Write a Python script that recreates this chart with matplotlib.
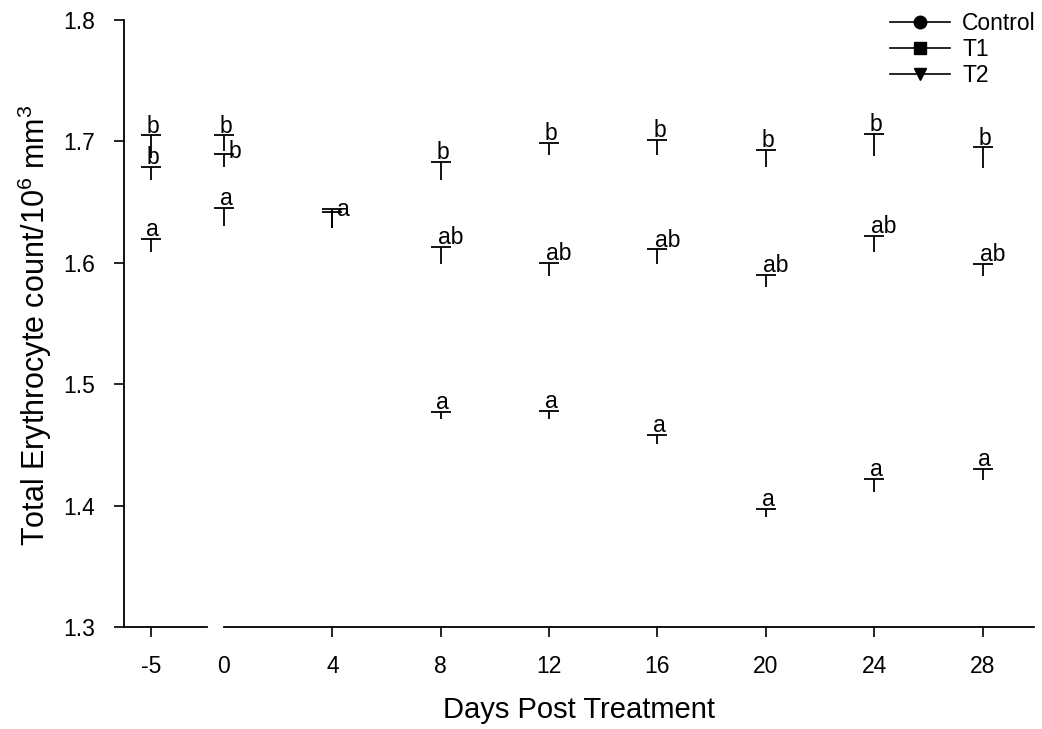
import numpy as np
import matplotlib.pyplot as plt
from matplotlib.lines import Line2D

plt.rcParams['font.family'] = ['Liberation Sans', 'DejaVu Sans']
plt.rcParams['mathtext.default'] = 'regular'
plt.rcParams['axes.unicode_minus'] = False

days = [-5, 0, 4, 8, 12, 16, 20, 24, 28]
series = ["Control", "T1", "T2"]

# means and standard errors (only the upper bar is drawn)
control_mean = [1.686, 1.692, np.nan, 1.668, 1.689, 1.689, 1.679, 1.688, 1.678]
control_err = [0.019, 0.013, np.nan, 0.015, 0.010, 0.012, 0.014, 0.018, 0.017]
t1_mean = [1.668, 1.679, 1.629, 1.599, 1.589, 1.599, 1.580, 1.609, 1.589]
t1_err = [0.011, 0.011, 0.015, 0.014, 0.011, 0.012, 0.010, 0.013, 0.010]
t2_mean = [1.609, 1.630, 1.629, 1.471, 1.471, 1.451, 1.391, 1.411, 1.421]
t2_err = [0.011, 0.015, 0.013, 0.006, 0.007, 0.007, 0.006, 0.011, 0.009]

control_letters = ["b", "b", "", "b", "b", "b", "b", "b", "b"]
t1_letters = ["b", "b", "", "ab", "ab", "ab", "ab", "ab", "ab"]
t2_letters = ["a", "a", "a", "a", "a", "a", "a", "a", "a"]

means = [control_mean, t1_mean, t2_mean]
errs = [control_err, t1_err, t2_err]
letters = [control_letters, t1_letters, t2_letters]
markers = ["o", "s", "v"]

# letters that sit beside the bar instead of on top of it
beside = {(1, 1), (2, 2)}

W, H = 1042, 729
fig = plt.figure(figsize=(W / 100, H / 100), dpi=100)
bottom, top = 1 - 627 / H, 1 - 20 / H
ax1 = fig.add_axes([124 / W, bottom, (207 - 124) / W, top - bottom])
ax2 = fig.add_axes([224 / W, bottom, (1034 - 224) / W, top - bottom], sharey=ax1)

ax1.set_xlim(-6.0, -2.9)
ax2.set_xlim(0, 29.9)
ax1.set_ylim(1.3, 1.8)
ax1.set_yticks([1.3, 1.4, 1.5, 1.6, 1.7, 1.8])
ax1.set_xticks([-5])
ax2.set_xticks([0, 4, 8, 12, 16, 20, 24, 28])
ax2.xaxis.get_major_ticks()[0].tick1line.set_visible(False)

for ax in (ax1, ax2):
    for s in ("top", "right"):
        ax.spines[s].set_visible(False)
    ax.spines["bottom"].set_linewidth(1.3)
    ax.tick_params(axis="x", direction="out", length=7, width=1.2, pad=13, labelsize=16.5)
ax2.spines["left"].set_visible(False)
ax2.tick_params(axis="y", left=False, labelleft=False)
ax1.spines["left"].set_linewidth(1.3)
ax1.tick_params(axis="y", direction="out", length=7, width=1.2, pad=14, labelsize=16.5)

for k in range(3):
    for j, (x, m, e, lab) in enumerate(zip(days, means[k], errs[k], letters[k])):
        if np.isnan(m):
            continue
        ax = ax1 if x < 0 else ax2
        ax.vlines(x, m, m + e, color="black", lw=1.3, clip_on=False)
        ax.plot([x], [m + e], marker="_", ms=14, mew=1.3, color="black", ls="none", clip_on=False)
        if not lab:
            continue
        if (k, j) in beside:
            ax.annotate(lab, (x, m + e), xytext=(3, -3), textcoords="offset points",
                        ha="left", va="baseline", fontsize=16.5, annotation_clip=False)
        elif len(lab) > 1:
            ax.annotate(lab, (x, m + e), xytext=(-2, 2), textcoords="offset points",
                        ha="left", va="baseline", fontsize=16.5, annotation_clip=False)
        else:
            ax.annotate(lab, (x, m + e), xytext=(1.5, 2), textcoords="offset points",
                        ha="center", va="baseline", fontsize=16.5, annotation_clip=False)

fig.text(35 / W, 1 - 325 / H, "Total Erythrocyte count/10$^6$ mm$^3$", rotation=90,
         ha="center", va="center", fontsize=22)
fig.text(579 / W, 1 - 710 / H, "Days Post Treatment", ha="center", va="center", fontsize=21)

handles = [Line2D([], [], color="black", lw=1.2, marker=mk, ms=9) for mk in markers]
fig.legend(handles, series, loc="upper left", bbox_to_anchor=(890 / W, 1 - 12 / H),
           frameon=False, fontsize=16.5, handlelength=2.6, handletextpad=0.55,
           labelspacing=0.13, borderpad=0, borderaxespad=0)

fig.savefig("out.png", dpi=100)
